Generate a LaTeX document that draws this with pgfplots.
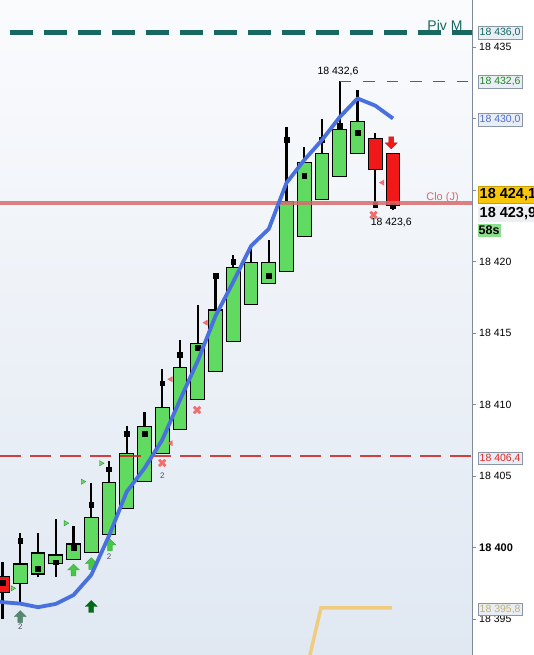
\documentclass[border=0pt]{standalone}
\usepackage{fontspec}
\setmainfont{Liberation Sans}
\usepackage{pgfplots}
\usepackage{pgfplotstable}
\pgfplotsset{compat=1.18}
\definecolor{candlegreen}{RGB}{96,218,96}
\definecolor{candlered}{RGB}{240,24,24}
\definecolor{pivteal}{RGB}{22,104,96}
\definecolor{maBlue}{RGB}{72,112,222}
\definecolor{cloRed}{RGB}{214,108,108}
\definecolor{dashRed}{RGB}{204,34,34}
\definecolor{hiGreen}{RGB}{34,136,34}
\definecolor{orangeL}{RGB}{240,204,128}
\definecolor{axisGray}{RGB}{127,138,153}
\definecolor{boxBorder}{RGB}{136,150,165}
\definecolor{boxFill}{RGB}{232,238,244}
\definecolor{tanText}{RGB}{196,176,120}
\definecolor{goldBox}{RGB}{248,198,10}
\definecolor{timerGreen}{RGB}{140,222,140}
\definecolor{arrowGreen}{RGB}{68,200,68}
\definecolor{arrowDark}{RGB}{0,110,20}
\definecolor{arrowGray}{RGB}{60,120,90}
\definecolor{xRed}{RGB}{240,110,110}
\definecolor{maText}{RGB}{80,110,210}
\definecolor{lblRed}{RGB}{220,40,40}

\pgfdeclareplotmark{uparrow}{%
 \pgfpathmoveto{\pgfqpoint{0pt}{\pgfplotmarksize}}%
 \pgfpathlineto{\pgfqpoint{\pgfplotmarksize}{0pt}}%
 \pgfpathlineto{\pgfqpoint{0.4\pgfplotmarksize}{0pt}}%
 \pgfpathlineto{\pgfqpoint{0.4\pgfplotmarksize}{-\pgfplotmarksize}}%
 \pgfpathlineto{\pgfqpoint{-0.4\pgfplotmarksize}{-\pgfplotmarksize}}%
 \pgfpathlineto{\pgfqpoint{-0.4\pgfplotmarksize}{0pt}}%
 \pgfpathlineto{\pgfqpoint{-\pgfplotmarksize}{0pt}}%
 \pgfpathclose
 \pgfusepathqfillstroke
}

\pgfplotstableread{
i open high low close up
0 18398.0 18399.0 18395.0 18396.9 0
1 18397.52 18401.04 18396.15 18398.87 1
2 18398.17 18401.04 18397.96 18399.64 1
3 18398.92 18402.0 18397.96 18399.5 1
4 18399.2 18401.53 18399.2 18400.27 1
5 18399.69 18404.51 18399.69 18402.13 1
6 18400.95 18406.07 18400.95 18404.58 1
7 18402.76 18408.52 18402.76 18406.61 1
8 18404.62 18409.51 18404.62 18408.47 1
9 18406.61 18412.48 18406.61 18409.82 1
10 18408.24 18414.5 18408.24 18412.62 1
11 18410.38 18416.97 18410.38 18414.25 1
12 18412.31 18419.14 18412.31 18416.62 1
13 18414.41 18420.46 18414.41 18419.61 1
14 18417.02 18421.04 18417.02 18419.95 1
15 18418.49 18421.51 18418.49 18419.95 1
16 18419.30 18429.43 18419.30 18424.19 1
17 18421.74 18427.99 18421.74 18426.91 1
18 18424.36 18429.95 18424.36 18427.57 1
19 18425.94 18432.6 18425.94 18429.2 1
20 18427.57 18432.0 18427.57 18429.78 1
21 18428.62 18428.97 18424.0 18426.45 0
22 18427.57 18427.57 18423.6 18423.9 0
}\candles

\pgfplotstableread{
i v
0 18397.54
1 18400.48
2 18398.52
3 18399.0
4 18400.0
5 18403.0
6 18405.5
7 18408.0
8 18408.0
9 18411.5
10 18413.5
11 18414.0
12 18419.0
13 18420.0
15 18419.0
16 18428.5
17 18426.0
18 18428.5
19 18429.5
20 18429.0
21 18424.0
22 18423.9
}\squares

\pgfplotstableread{
i v
-0.2 18396.25
0 18396.2
1 18396.1
2 18395.85
3 18396.08
4 18396.7
5 18398.1
6 18400.84
7 18403.92
8 18405.56
9 18407.54
10 18410.33
11 18413.06
12 18416.2
13 18418.58
14 18421.09
15 18422.28
16 18425.5
17 18427.1
18 18428.5
19 18430.1
20 18431.4
21 18430.9
22 18430.0
}\mavg

\begin{document}
\begin{tikzpicture}
\path[use as bounding box] (0,0) rectangle (534pt,655pt);
\begin{axis}[
 at={(0,0)}, anchor=south west,
 scale only axis, width=472pt, height=655pt,
 xmin=-0.141, xmax=26.45, ymin=18392.51, ymax=18438.28,
 axis x line=none,
 axis y line*=right,
 axis line style={-},
 y axis line style={draw=axisGray, line width=0.8pt, -},
 scaled y ticks=false,
 ytick={18395,18400,18405,18410,18415,18420,18425,18430,18435},
 yticklabels={18 395,{\fontsize{11}{12}\selectfont\bfseries 18 400},18 405,18 410,18 415,18 420,{},{},18 435},
 tick align=outside, major tick length=3.7pt,
 ytick style={draw=axisGray, line width=0.8pt},
 yticklabel style={font=\fontsize{10.5}{12}\selectfont, text=black},
 clip mode=individual,
 axis background/.style={shade, top color={rgb,255:red,250;green,251;blue,253}, bottom color={rgb,255:red,224;green,232;blue,242}},
]
% candles
\pgfplotsforeachungrouped \ci in {0,...,22}{%
  \pgfplotstablegetelem{\ci}{open}\of\candles \let\vo\pgfplotsretval
  \pgfplotstablegetelem{\ci}{high}\of\candles \let\vh\pgfplotsretval
  \pgfplotstablegetelem{\ci}{low}\of\candles \let\vl\pgfplotsretval
  \pgfplotstablegetelem{\ci}{close}\of\candles \let\vc\pgfplotsretval
  \pgfplotstablegetelem{\ci}{up}\of\candles \let\vu\pgfplotsretval
  \pgfmathsetmacro\xl{\ci-0.39}%
  \pgfmathsetmacro\xr{\ci+0.39}%
  \ifnum\vu=1 \def\cc{candlegreen}\else\def\cc{candlered}\fi
  \edef\tmp{\noexpand\addplot[black, line width=2.2pt, forget plot] coordinates {(\ci,\vl) (\ci,\vh)};
    \noexpand\addplot[draw=black, line width=1.1pt, fill=\cc, forget plot] coordinates {(\xl,\vo) (\xr,\vo) (\xr,\vc) (\xl,\vc)} --cycle;}%
  \tmp
}
% squares
\addplot[only marks, mark=square*, mark size=2.4pt, black] table[x=i,y=v] {\squares};
% horizontal lines
\addplot[pivteal, line width=4.5pt, dash pattern=on 22.7pt off 11.3pt, dash phase=24pt] coordinates {(-0.141,18436.0) (26.45,18436.0)};
\addplot[hiGreen, line width=0.9pt, dash pattern=on 11.7pt off 11.7pt] coordinates {(19,18432.6) (26.45,18432.6)};
\addplot[cloRed, line width=3.6pt, opacity=0.85] coordinates {(-0.141,18424.1) (26.45,18424.1)};
\addplot[dashRed, line width=2.4pt, opacity=0.85, dash pattern=on 20.7pt off 9.3pt] coordinates {(-0.141,18406.4) (26.45,18406.4)};
% orange line
\addplot[orangeL, line width=3.5pt] coordinates {(17.04,18391.0) (17.94,18395.8) (21.94,18395.8)};
% markers
\addplot[only marks, mark=uparrow, mark size=6pt, fill=arrowGreen, draw=arrowGreen!80!black, line width=0.3pt] coordinates {(4.0,18398.45) (5.0,18398.9) (6.05,18400.2)};
\addplot[only marks, mark=uparrow, mark size=6pt, fill=arrowGray, draw=arrowGray!80!black, line width=0.3pt, opacity=0.85] coordinates {(1.0,18395.2)};
\addplot[only marks, mark=uparrow, mark size=6pt, fill=arrowDark, draw=arrowDark!70!black, line width=0.3pt] coordinates {(5.0,18395.9)};
\addplot[only marks, mark=uparrow, mark size=6pt, fill=candlered, draw=candlered!80!black, line width=0.3pt, mark options={rotate=180}] coordinates {(21.9,18428.3)};
\addplot[only marks, mark=x, mark size=4.5pt, xRed, line width=2.8pt] coordinates {(9.0,18405.93) (10.96,18409.63) (20.9,18423.26)};
\addplot[only marks, mark=triangle*, mark size=3pt, fill=xRed, draw=xRed, mark options={rotate=90}] coordinates {(9.48,18407.31) (9.48,18411.78) (11.46,18415.73) (21.4,18425.52)};
\addplot[only marks, mark=triangle*, mark size=3pt, fill={rgb,255:red,110;green,215;blue,110}, draw={rgb,255:red,40;green,150;blue,40}, mark options={rotate=-90}] coordinates {(0.57,18397.17) (3.56,18401.72) (4.52,18404.62) (5.55,18405.91)};
% moving average
\addplot[maBlue, line width=3.8pt, line join=round] table[x=i,y=v] {\mavg};
% small labels
\node[font=\fontsize{8}{9}\selectfont, text={rgb,255:red,80;green,80;blue,90}] at (axis cs:1.0,18394.47) {2};
\node[font=\fontsize{8}{9}\selectfont, text={rgb,255:red,80;green,80;blue,90}] at (axis cs:6.0,18399.36) {2};
\node[font=\fontsize{8}{9}\selectfont, text={rgb,255:red,80;green,80;blue,90}] at (axis cs:9.0,18405.02) {2};
\node[font=\fontsize{10.5}{12}\selectfont] at (axis cs:18.9,18433.25) {18 432,6};
\node[font=\fontsize{10.5}{12}\selectfont] at (axis cs:21.9,18422.7) {18 423,6};
\node[font=\fontsize{14}{16}\selectfont, text=pivteal, anchor=east] at (axis cs:26.11,18436.5) {Piv M};
\node[font=\fontsize{11}{13}\selectfont, text=cloRed, anchor=east] at (axis cs:25.9,18424.5) {Clo (J)};
% right-side labels
\tikzset{rbox/.style={anchor=west, xshift=5.7pt, draw=boxBorder, fill=boxFill, font=\fontsize{10.5}{12}\selectfont, inner xsep=1.8pt, inner ysep=1.7pt, text height=7.6pt, text depth=1.9pt}}
\node[rbox, text=pivteal] at (axis cs:26.45,18436.0) {18 436,0};
\node[rbox, text=hiGreen] at (axis cs:26.45,18432.55) {18 432,6};
\node[rbox, text=maText] at (axis cs:26.45,18429.92) {18 430,0};
\node[rbox, text=lblRed] at (axis cs:26.45,18406.26) {18 406,4};
\node[rbox, text=tanText] at (axis cs:26.45,18395.71) {18 395,8};
\node[anchor=west, xshift=5.5pt, draw={rgb,255:red,200;green,160;blue,0}, fill=goldBox, font=\fontsize{14.5}{16}\selectfont\bfseries, inner xsep=2pt, inner ysep=2pt, text height=10.5pt, text depth=2.5pt] at (axis cs:26.45,18424.66) {18 424,1};
\node[anchor=west, xshift=5.5pt, fill={rgb,255:red,236;green,240;blue,245}, font=\fontsize{14.5}{16}\selectfont\bfseries, inner xsep=2pt, inner ysep=1.5pt, text height=10.5pt, text depth=2.5pt] at (axis cs:26.45,18423.33) {18 423,9};
\node[anchor=west, xshift=5.5pt, fill=timerGreen, font=\fontsize{12.5}{14}\selectfont\bfseries, inner xsep=1pt, inner ysep=1.5pt, text height=9pt, text depth=1pt] at (axis cs:26.45,18422.14) {58s};
\end{axis}
\end{tikzpicture}
\end{document}
